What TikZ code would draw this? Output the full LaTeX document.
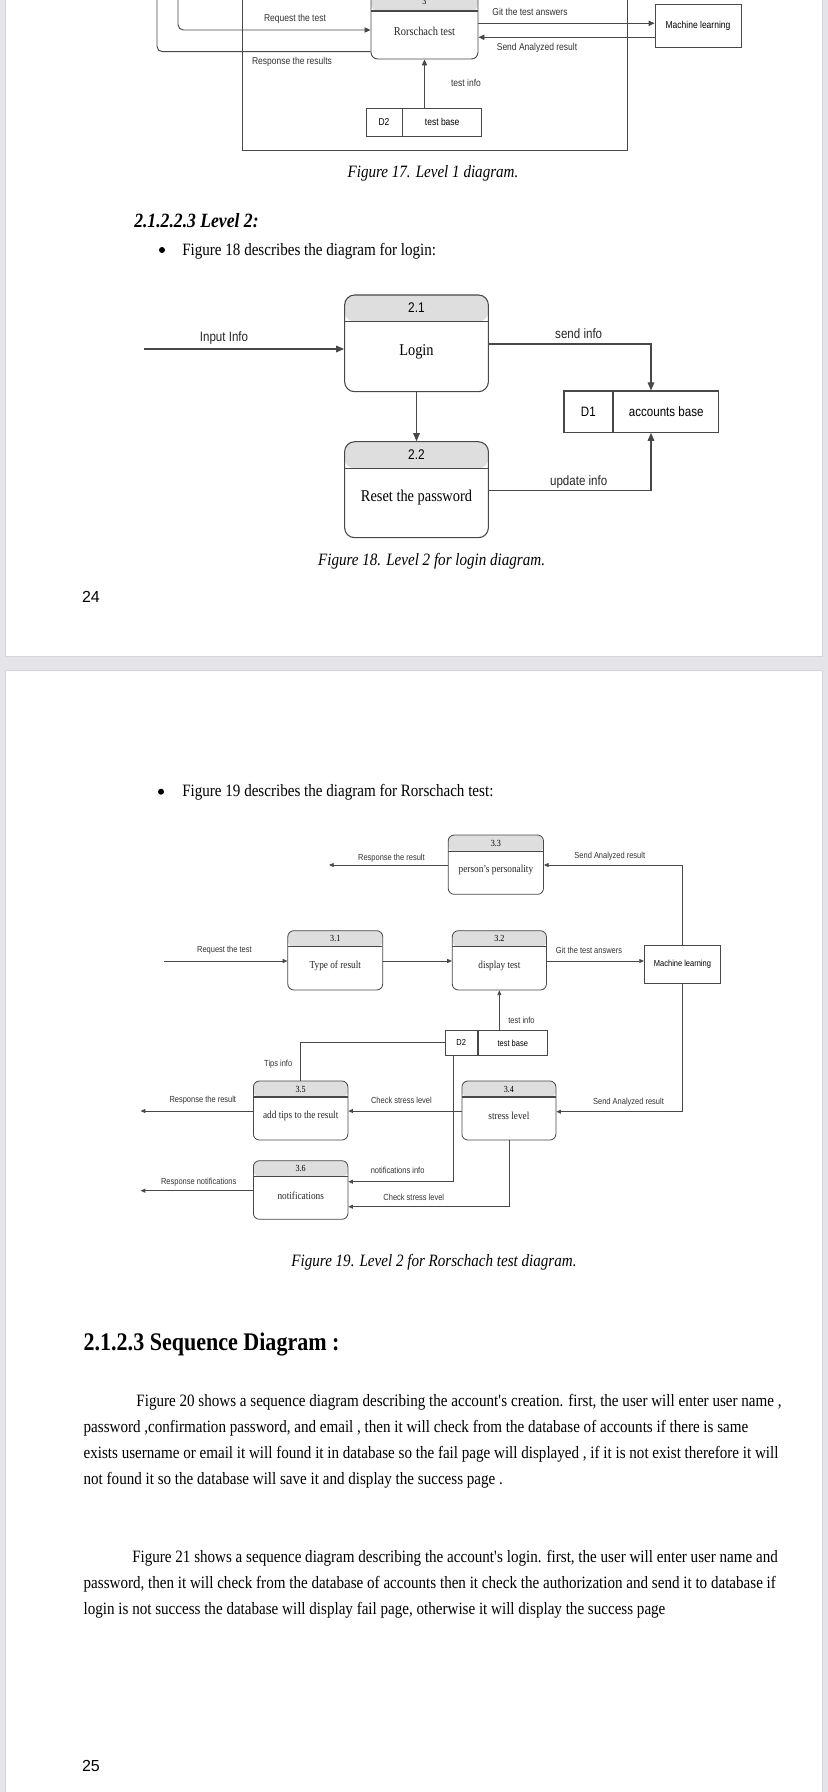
\documentclass[tikz,border=0pt]{standalone}
\usepackage{fontspec}
\setmainfont[FakeStretch=0.87]{Liberation Serif}
\newfontfamily\dfdsans[FakeStretch=0.85]{Liberation Sans}
\newfontfamily\pagesans{Liberation Sans}
\usetikzlibrary{arrows.meta,positioning,fit}
\definecolor{deskgray}{RGB}{228,228,233}
\definecolor{edgegray}{RGB}{212,212,218}
\definecolor{hdrgray}{RGB}{222,222,222}
\definecolor{inkgray}{RGB}{72,72,72}

\begin{document}
\begin{tikzpicture}[
    x=0.75pt, y=-0.75pt,
    hdr/.store in=\hdrh, hdr=12pt,
    procbox/.style={draw=inkgray, line width=0.8pt, inner sep=0pt,
        path picture={
            \fill[hdrgray] (path picture bounding box.north west) rectangle ([yshift=-\hdrh]path picture bounding box.north east);
            \draw[inkgray, line width=0.8pt] ([yshift=-\hdrh]path picture bounding box.north west) -- ([yshift=-\hdrh]path picture bounding box.north east);
        }},
    proc17/.style={procbox, rounded corners=5pt, line width=0.7pt},
    proc18/.style={procbox, rounded corners=7.5pt},
    proc19/.style={procbox, rounded corners=4.5pt, line width=0.6pt},
    storebox/.style={draw=inkgray, line width=0.8pt, inner sep=0pt},
    store17/.style={storebox, line width=0.7pt, minimum height=21.5pt, font=\dfdsans\fontsize{7.5}{9}\selectfont},
    store18/.style={storebox, minimum height=31pt, font=\dfdsans\fontsize{10.2}{12}\selectfont},
    store19/.style={storebox, line width=0.6pt, minimum height=19.3pt, font=\dfdsans\fontsize{6.6}{8}\selectfont},
    line17/.style={draw=inkgray, line width=0.7pt},
    flow17/.style={line17, -{Triangle[length=4.5pt,width=4pt]}},
    flow18/.style={draw=inkgray, line width=0.8pt, -{Triangle[length=6pt,width=5pt]}},
    line19/.style={draw=inkgray, line width=0.6pt},
    flow19/.style={line19, -{Triangle[length=3.5pt,width=3pt]}},
    lab17/.style={font=\dfdsans\fontsize{7.5}{9}\selectfont, inner sep=0pt, text=black!80},
    lab18/.style={font=\dfdsans\fontsize{10.2}{12}\selectfont, inner sep=0pt, text=black!85},
    lab19/.style={font=\dfdsans\fontsize{6.6}{8}\selectfont, inner sep=0pt, text=black!80},
    ptx17/.style={font=\fontsize{9}{11}\selectfont, inner sep=0pt, text=black!85},
    ptx18/.style={font=\fontsize{12.4}{14}\selectfont, inner sep=0pt},
    ptx19/.style={font=\fontsize{8}{10}\selectfont, inner sep=0pt, text=black!85},
    num18/.style={font=\dfdsans\fontsize{10.5}{12}\selectfont, inner sep=0pt},
    num19/.style={font=\fontsize{7}{8}\selectfont, inner sep=0pt},
    body/.style={font=\fontsize{13}{15}\selectfont, inner sep=0pt, anchor=base west},
    bulletdot/.style={circle, fill=black, inner sep=0pt, minimum size=4.5pt},
    caption/.style={font=\itshape\fontsize{13}{15}\selectfont, inner sep=0pt},
    pagenum/.style={font=\pagesans\fontsize{12}{14}\selectfont, inner sep=0pt}
]

\useasboundingbox (0,0) rectangle (828,1792);
\clip (0,0) rectangle (828,1792);

% Pages
\fill[deskgray] (0,0) rectangle (828,1792);
\filldraw[white, draw=edgegray] (5.5,-10) rectangle (822.5,656);
\filldraw[white, draw=edgegray] (5.5,670) rectangle (822.5,1802);

% Figure 17 (lower part)
\draw[line17] (242,-10) rectangle (627,150.7);
\node[proc17, hdr=13.5pt, fit={(371,-7) (478,59)}] (p3) {};
\node[num19] (p3n) at (424.5,1) {3};
\node[ptx17] (p3t) at (424.5,31.7) {Rorschach test};
\node[store17, minimum width=64.5pt, minimum height=32.8pt] (ml17) at (698,25.85) {Machine learning};
\node[store17, minimum width=27pt] (d2id17) at (384,122.35) {D2};
\node[store17, minimum width=58.9pt, right=0pt of d2id17] (d2nm17) {test base};
\coordinate (usr17a) at (157,-10);
\coordinate (usr17b) at (178,-10);

\draw[flow17, rounded corners=4pt] (usr17b) |- (p3.west |- 0,30);
\draw[line17, rounded corners=4pt] (p3.west |- 0,51.7) -| (usr17a);
\draw[flow17] (p3.east |- 0,23.3) -- (ml17.west |- 0,23.3);
\draw[flow17] (ml17.west |- 0,37.3) -- (p3.east |- 0,37.3);
\draw[flow17] (p3.south |- d2nm17.north) -- (p3.south);

\node[lab17] (l17req) at (295,19) {Request the test};
\node[lab17] (l17resp) at (292,61.7) {Response the results};
\node[lab17] (l17git) at (530,12) {Git the test answers};
\node[lab17] (l17send) at (537,48.3) {Send Analyzed result};
\node[lab17] (l17info) at (466,83) {test info};
\node[caption] (cap17) at (433,173) {Figure 17. Level 1 diagram.};

% Level 2 heading
\node[body, font=\bfseries\itshape\fontsize{15.2}{17}\selectfont] (h2223) at (134,227) {2.1.2.2.3 Level 2:};
\node[bulletdot] (bul18) at (162,250) {};
\node[body] (txt18) at (182,255) {Figure 18 describes the diagram for login:};

% Figure 18
\node[proc18, hdr=20pt, fit={(344.6,295) (488.4,391.7)}] (p21) {};
\node[num18] (p21n) at (416.5,308) {2.1};
\node[ptx18] (p21t) at (416.5,351.7) {Login};
\node[proc18, hdr=20pt, fit={(344.6,441.7) (488.4,537.7)}] (p22) {};
\node[num18] (p22n) at (416.5,454.5) {2.2};
\node[ptx18] (p22t) at (416.5,497.7) {Reset the password};
\node[store18, minimum width=36.5pt] (d1id) at (588.35,411.65) {D1};
\node[store18, minimum width=78.7pt, right=0pt of d1id] (d1nm) {accounts base};
\coordinate (inp18) at (143.5,349);

\draw[flow18] (inp18) -- (p21.west |- inp18);
\draw[flow18] (p21.east |- 0,344) -| (d1nm.north -| 651,0);
\draw[flow18] (p21.south) -- (p22.north);
\draw[flow18] (p22.east |- 0,490.7) -| (d1nm.south -| 651,0);

\node[lab18] (l18inp) at (224,337.7) {Input Info};
\node[lab18] (l18send) at (578.7,333.3) {send info};
\node[lab18] (l18upd) at (578.7,481.7) {update info};
\node[caption] (cap18) at (431.6,561.7) {Figure 18. Level 2 for login diagram.};

\node[pagenum] (pg24) at (91,597) {24};

% Figure 19
\node[bulletdot] (bul19) at (161,791.7) {};
\node[body] (txt19) at (182,796.7) {Figure 19 describes the diagram for Rorschach test:};

\node[proc19, hdr=12.5pt, fit={(448.2,835) (543.5,894.3)}] (p33) {};
\node[num19] (p33n) at (495.9,843) {3.3};
\node[ptx19] (p33t) at (495.9,870) {person's personality};
\node[proc19, hdr=12pt, fit={(287.8,930.7) (382.7,990)}] (p31) {};
\node[num19] (p31n) at (335.3,938.7) {3.1};
\node[ptx19] (p31t) at (335.3,965.7) {Type of result};
\node[proc19, hdr=12pt, fit={(452.3,930.7) (546.4,990)}] (p32) {};
\node[num19] (p32n) at (499.4,938.7) {3.2};
\node[ptx19] (p32t) at (499.4,965.7) {display test};
\node[store19, minimum width=57.2pt, minimum height=28.2pt] (ml19) at (682.45,964.5) {Machine learning};
\node[store19, minimum width=23.9pt] (d2id19) at (461.25,1042.85) {D2};
\node[store19, minimum width=52.2pt, right=0pt of d2id19] (d2nm19) {test base};
\node[proc19, hdr=12pt, fit={(253.4,1081) (347.9,1140)}] (p35) {};
\node[num19] (p35n) at (300.7,1089) {3.5};
\node[ptx19] (p35t) at (300.7,1115.7) {add tips to the result};
\node[proc19, hdr=12pt, fit={(461.9,1081) (555.9,1140)}] (p34) {};
\node[num19] (p34n) at (508.9,1089) {3.4};
\node[ptx19] (p34t) at (508.9,1115.7) {stress level};
\node[proc19, hdr=12pt, fit={(253.4,1160.7) (347.9,1219.3)}] (p36) {};
\node[num19] (p36n) at (300.7,1168.7) {3.6};
\node[ptx19] (p36t) at (300.7,1195.7) {notifications};
\coordinate (out33) at (329,865);
\coordinate (in31) at (164,961);
\coordinate (out35) at (140.6,1111);
\coordinate (out36) at (140.6,1190.7);

\draw[flow19] (p33.west |- out33) -- (out33);
\draw[flow19] (ml19.north) |- (p33.east |- out33);
\draw[flow19] (in31) -- (p31.west |- in31);
\draw[flow19] (p31.east |- in31) -- (p32.west |- in31);
\draw[flow19] (p32.east |- in31) -- (ml19.west |- in31);
\draw[flow19] (p32.south |- d2nm19.north) -- (p32.south);
\draw[line19] (d2id19.west) -| (p35.north);
\draw[flow19] (p35.west |- out35) -- (out35);
\draw[flow19] (p34.west |- out35) -- (p35.east |- out35);
\draw[flow19] (ml19.south) |- (p34.east |- 0,1111.7);
\draw[flow19] (d2id19.south -| 453.6,0) |- (p36.east |- 0,1181.7);
\draw[flow19] (p34.south) |- (p36.east |- 0,1206.7);
\draw[flow19] (p36.west |- out36) -- (out36);

\node[lab19] (l19resp1) at (391.4,858.3) {Response the result};
\node[lab19] (l19send1) at (609.8,856.7) {Send Analyzed result};
\node[lab19] (l19req) at (224.4,950.7) {Request the test};
\node[lab19] (l19git) at (589,950.7) {Git the test answers};
\node[lab19] (l19info) at (521.5,1020) {test info};
\node[lab19] (l19tips) at (278.2,1064.3) {Tips info};
\node[lab19] (l19resp2) at (202.8,1100) {Response the result};
\node[lab19] (l19chk1) at (401.4,1100) {Check stress level};
\node[lab19] (l19send2) at (628.5,1102.3) {Send Analyzed result};
\node[lab19] (l19notif) at (397.6,1170) {notifications info};
\node[lab19] (l19chk2) at (413.8,1197) {Check stress level};
\node[lab19] (l19resp3) at (198.7,1182) {Response notifications};
\node[caption] (cap19) at (434,1262) {Figure 19. Level 2 for Rorschach test diagram.};

% Sequence diagram section
\node[body, font=\bfseries\fontsize{19}{22}\selectfont] (h213) at (83.4,1350.5) {2.1.2.3 Sequence Diagram :};
\node[body] (pa1) at (136.2,1406.7) {Figure 20 shows a sequence diagram describing the account\textquotesingle s creation. first, the user will enter user name ,};
\node[body] (pa2) at (83.4,1432.3) {password ,confirmation password, and email , then it will check from the database of accounts if there is same};
\node[body] (pa3) at (83.4,1458.3) {exists username or email it will found it in database so the fail page will displayed , if it is not exist therefore it will};
\node[body] (pa4) at (83.4,1484.3) {not found it so the database will save it and display the success page .};
\node[body] (pb1) at (132,1562.3) {Figure 21 shows a sequence diagram describing the account\textquotesingle s login. first, the user will enter user name and};
\node[body] (pb2) at (83.4,1588.3) {password, then it will check from the database of accounts then it check the authorization and send it to database if};
\node[body] (pb3) at (83.4,1614.3) {login is not success the database will display fail page, otherwise it will display the success page};

\node[pagenum] (pg25) at (91,1765.7) {25};

\end{tikzpicture}
\end{document}
